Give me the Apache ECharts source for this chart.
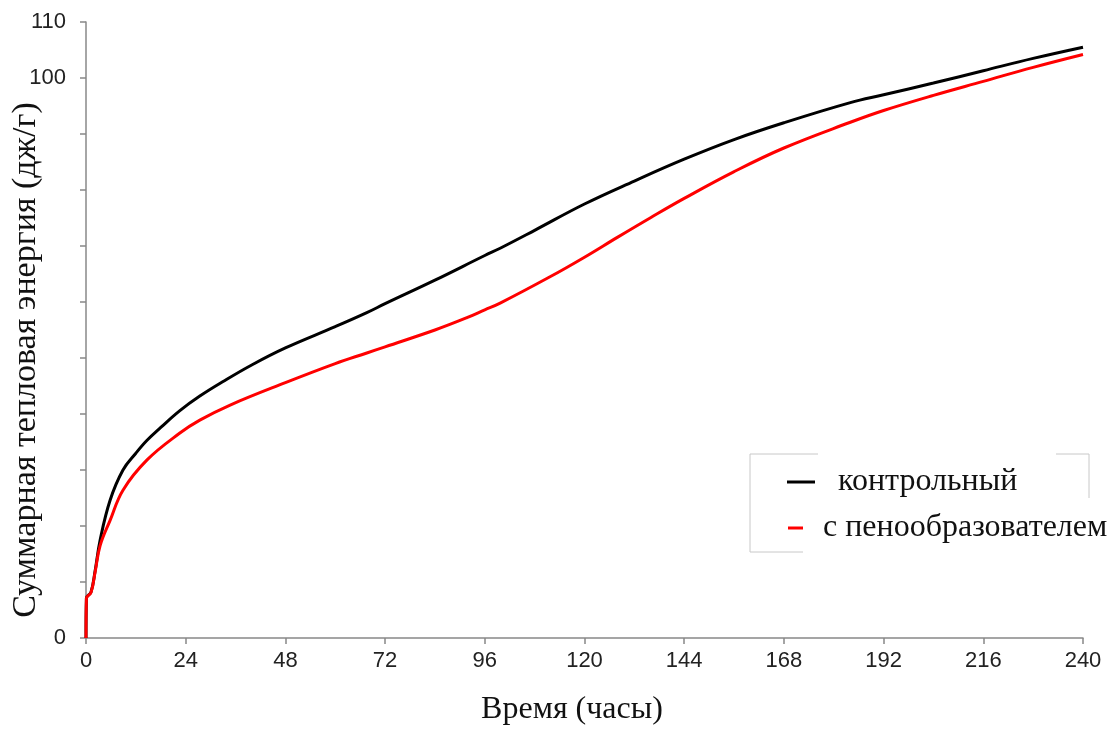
<!DOCTYPE html>
<html>
<head>
<meta charset="UTF-8">
<script type="text/javascript" src="https://cdn.jsdelivr.net/npm/echarts@6/dist/echarts.min.js"></script>
<title>Суммарная тепловая энергия</title>
<style>
	html, body { margin: 0; padding: 0; background: #fff; }
	#main { width: 1114px; height: 729px; }
</style>
</head>
<body>
<div id="main"></div>
<script type="text/javascript">
	// часы
	var hoursControl = [0, 0.1, 1.2, 2.2, 3.4, 5.8, 8.9, 12, 14.7, 18, 22.6, 27.4, 33, 40, 48, 60, 67.6, 72, 84, 96, 99.7, 108, 120, 132, 144, 156, 168, 184, 192, 204, 216, 228, 240];
	var control = [0, 7.1, 8.2, 12, 17.5, 24.6, 30, 33, 35.3, 37.6, 40.6, 43.2, 45.8, 48.8, 51.8, 55.6, 58.1, 59.7, 63.9, 68.3, 69.6, 72.8, 77.5, 81.6, 85.5, 89, 92, 95.6, 97, 99.1, 101.3, 103.5, 105.5];

	var hoursFoam = [0, 0.1, 1.2, 2.2, 3.4, 5.8, 8.9, 14.7, 22.6, 27.4, 34.7, 48, 60, 67.6, 72, 84, 91.7, 96, 99.7, 111.7, 120, 127.8, 136, 144, 155.8, 168, 184, 192, 204, 216, 228, 240];
	var foam = [0, 7.1, 8.1, 11.8, 16.5, 21, 26.4, 31.8, 36.6, 38.9, 41.6, 45.6, 49, 50.9, 52, 55, 57.2, 58.6, 59.8, 64.5, 68, 71.5, 75.1, 78.5, 83.2, 87.5, 92.1, 94.2, 96.9, 99.4, 101.9, 104.2];

	var shownYLabels = [0, 100, 110];

	function pairs(xs, ys){
		var out = [];
		for(var i in xs){
			out.push([xs[i], ys[i]]);
		}
		return out;
	}

	var legendText = { fontFamily: 'Liberation Serif', fontSize: 32, color: '#111' };

	var myChart = echarts.init(document.getElementById('main'));
	var option = {
		animation: false,
		backgroundColor: '#fff',
		grid: { left: 86, right: 31, top: 22, bottom: 91, containLabel: false, outerBoundsMode: 'none' },
		legend: [
			{
				left: 787, top: 466, padding: 0,
				itemWidth: 28, itemHeight: 3, icon: 'rect',
				textStyle: Object.assign({ padding: [0, 0, 0, 18] }, legendText),
				data: ['контрольный']
			},
			{
				left: 788, top: 512, padding: 0,
				itemWidth: 15, itemHeight: 3, icon: 'rect',
				textStyle: Object.assign({ padding: [0, 0, 0, 15] }, legendText),
				data: ['с пенообразователем']
			}
		],
		xAxis: {
			type: 'value',
			min: 0,
			max: 240,
			interval: 24,
			name: 'Время (часы)',
			nameLocation: 'middle',
			nameGap: 56,
			nameMoveOverlap: false,
			nameTextStyle: { fontFamily: 'Liberation Serif', fontSize: 32, color: '#111', padding: [0, 25, 0, 0] },
			axisLine: { lineStyle: { color: '#888', width: 1.5 } },
			axisTick: { length: 6, lineStyle: { color: '#888', width: 1.5 } },
			axisLabel: { fontFamily: 'Liberation Sans', fontSize: 22, color: '#222', margin: 12 },
			splitLine: { show: false }
		},
		yAxis: {
			type: 'value',
			min: 0,
			max: 110,
			interval: 10,
			name: 'Суммарная тепловая энергия (дж/г)',
			nameLocation: 'middle',
			nameGap: 43,
			nameMoveOverlap: false,
			nameTextStyle: { fontFamily: 'Liberation Serif', fontSize: 34, color: '#111', padding: [0, 60, 0, 0] },
			axisLine: { show: true, lineStyle: { color: '#888', width: 1.5 } },
			axisTick: { show: true, length: 6, lineStyle: { color: '#888', width: 1.5 } },
			axisLabel: {
				fontFamily: 'Liberation Sans', fontSize: 22, color: '#222', margin: 20,
				formatter: function(v){ return shownYLabels.indexOf(v) >= 0 ? String(v) : ''; }
			},
			splitLine: { show: false }
		},
		graphic: [
			{ type: 'polyline', silent: true, shape: { points: [[818, 454], [750, 454], [750, 552], [803, 552]] }, style: { stroke: '#c8c8c8', lineWidth: 1, fill: null } },
			{ type: 'polyline', silent: true, shape: { points: [[1056, 454], [1089, 454], [1089, 498]] }, style: { stroke: '#c8c8c8', lineWidth: 1, fill: null } }
		],
		series: [
			{
				name: 'контрольный',
				type: 'line',
				showSymbol: false,
				smooth: 0.4,
				lineStyle: { color: '#000', width: 3 },
				itemStyle: { color: '#000' },
				data: pairs(hoursControl, control)
			},
			{
				name: 'с пенообразователем',
				type: 'line',
				showSymbol: false,
				smooth: 0.4,
				lineStyle: { color: '#ff0000', width: 3 },
				itemStyle: { color: '#ff0000' },
				data: pairs(hoursFoam, foam)
			}
		]
	};
	myChart.setOption(option);
</script>
</body>
</html>
